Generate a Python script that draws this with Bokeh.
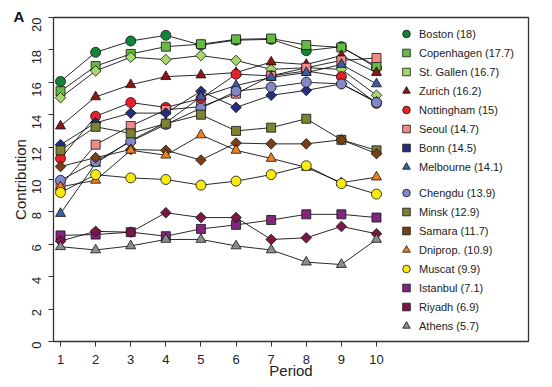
import math
from bokeh.plotting import figure
from bokeh.models import Legend, LegendItem, Title, FixedTicker, Range1d
from bokeh.embed import file_html
from bokeh.resources import INLINE

periods = [1, 2, 3, 4, 5, 6, 7, 8, 9, 10]
x_ticks = [1, 2, 3, 4, 5, 6, 7, 8, 9, 10]
y_ticks = [0, 2, 4, 6, 8, 10, 12, 14, 16, 18, 20]

city_labels = ["Boston (18)", "Copenhagen (17.7)", "St. Gallen (16.7)", "Zurich (16.2)",
               "Nottingham (15)", "Seoul (14.7)", "Bonn (14.5)", "Melbourne (14.1)",
               "Chengdu (13.9)", "Minsk (12.9)", "Samara (11.7)", "Dniprop. (10.9)",
               "Muscat (9.9)", "Istanbul (7.1)", "Riyadh (6.9)", "Athens (5.7)"]

boston = [16.05, 17.85, 18.55, 18.9, 18.3, 18.6, 18.65, 17.95, 18.2, 16.9]
copenhagen = [15.45, 17.0, 17.75, 18.2, 18.35, 18.65, 18.7, 18.3, 18.15, 17.0]
st_gallen = [15.05, 16.7, 17.55, 17.4, 17.65, 17.35, 16.8, 16.9, 16.8, 15.2]
zurich = [13.3, 15.1, 15.85, 16.35, 16.45, 16.6, 17.25, 17.1, 17.65, 16.6]
nottingham = [11.3, 13.9, 14.75, 14.45, 15.0, 16.5, 16.4, 16.7, 16.35, 14.7]
seoul = [9.6, 12.15, 13.3, 14.3, 14.5, 15.3, 16.4, 16.9, 17.35, 17.5]
bonn = [12.15, 13.5, 14.1, 14.1, 15.45, 14.45, 15.2, 15.5, 15.9, 14.8]
melbourne = [7.9, 11.0, 12.4, 13.5, 15.1, 15.8, 16.3, 16.6, 17.1, 15.9]
chengdu = [9.95, 11.1, 12.35, 13.4, 14.4, 15.45, 15.7, 16.0, 15.9, 14.75]
minsk = [11.8, 13.25, 12.85, 13.45, 14.0, 13.0, 13.2, 13.75, 12.45, 11.8]
samara = [10.8, 11.35, 11.85, 11.8, 11.2, 12.25, 12.2, 12.2, 12.45, 11.6]
dniprop = [9.55, 9.95, 11.8, 11.5, 12.75, 11.8, 11.3, 10.75, 9.8, 10.15]
muscat = [9.2, 10.3, 10.1, 10.0, 9.65, 9.9, 10.3, 10.85, 9.75, 9.1]
istanbul = [6.55, 6.6, 6.75, 6.5, 6.95, 7.2, 7.5, 7.85, 7.85, 7.65]
riyadh = [6.2, 6.8, 6.75, 7.95, 7.65, 7.65, 6.3, 6.4, 7.1, 6.65]
athens = [5.85, 5.65, 5.9, 6.3, 6.3, 5.9, 5.65, 4.9, 4.75, 6.3]

series = [boston, copenhagen, st_gallen, zurich, nottingham, seoul, bonn, melbourne,
          chengdu, minsk, samara, dniprop, muscat, istanbul, riyadh, athens]
colors = ["#13843A", "#66BB44", "#A6D96A", "#8C1515", "#E8202A", "#F4898A", "#262F7F", "#3C5DA8",
          "#8088C8", "#7E8233", "#7B3F17", "#F07F22", "#F7EA12", "#82257F", "#7C1748", "#8C8C8C"]
shapes = ["circle", "square", "diamond", "triangle"] * 4

FONT = "Liberation Sans"

p = figure(width=552, height=387, output_backend="svg", toolbar_location=None,
           x_range=Range1d(0.8, 14.33), y_range=Range1d(0, 20),
           min_border_left=53, min_border_right=24, min_border_top=17, min_border_bottom=46)
p.xgrid.visible = False
p.ygrid.visible = False
p.outline_line_color = "#333333"
p.outline_line_width = 1.3
p.background_fill_color = "white"
p.border_fill_color = "white"

for ax in (p.xaxis[0], p.yaxis[0]):
    ax.axis_line_color = None
    ax.major_tick_out = 5
    ax.major_tick_in = 0
    ax.minor_tick_line_color = None
    ax.major_tick_line_color = "#333333"
    ax.major_label_text_font = FONT
    ax.major_label_text_font_size = "13px"
    ax.major_label_text_color = "#222222"
    ax.axis_label_text_font = FONT
    ax.axis_label_text_font_size = "15px"
    ax.axis_label_text_font_style = "normal"
    ax.axis_label_text_color = "#222222"

p.xaxis.ticker = FixedTicker(ticks=x_ticks)
p.yaxis.ticker = FixedTicker(ticks=y_ticks)
p.xaxis.axis_label = "Period"
p.yaxis.axis_label = "Contribution"
p.xaxis.major_label_standoff = 8
p.xaxis.axis_label_standoff = -5
p.yaxis.major_label_orientation = math.pi / 2
p.yaxis.major_label_standoff = 12
p.yaxis.axis_label_standoff = -4

for vals in series:
    p.line(periods, vals, line_color="#111111", line_width=0.9)

items = []
for vals, col, shp, lab in zip(series, colors, shapes, city_labels):
    if shp == "circle":
        r = p.scatter(periods, vals, marker="circle", size=10, fill_color=col,
                      line_color="#111111", line_width=0.8)
    elif shp == "square":
        r = p.scatter(periods, vals, marker="square", size=9, fill_color=col,
                      line_color="#111111", line_width=0.8)
    elif shp == "diamond":
        r = p.scatter(periods, vals, marker="square", size=7.5, angle=math.pi / 4,
                      fill_color=col, line_color="#111111", line_width=0.8)
    else:
        r = p.scatter(periods, vals, marker="triangle", size=10, fill_color=col,
                      line_color="#111111", line_width=0.8)
    items.append(LegendItem(label=lab, renderers=[r]))

for chunk, loc in ((items[:8], (343, 165)), (items[8:], (343, 6))):
    lg = Legend(items=chunk, location=loc, orientation="vertical")
    lg.border_line_color = None
    lg.background_fill_alpha = 0
    lg.margin = 0
    lg.padding = 0
    lg.spacing = 0
    lg.glyph_width = 20
    lg.glyph_height = 19
    lg.label_height = 19
    lg.label_standoff = 3
    lg.label_text_font = FONT
    lg.label_text_font_size = "11px"
    lg.label_text_color = "#222222"
    p.add_layout(lg)

p.add_layout(Title(text="A", align="left", offset=-40, standoff=-14,
                   text_font=FONT, text_font_size="15px", text_font_style="bold",
                   text_color="#111111", vertical_align="bottom"), "above")

open("out.html", "w").write(file_html(p, INLINE))
